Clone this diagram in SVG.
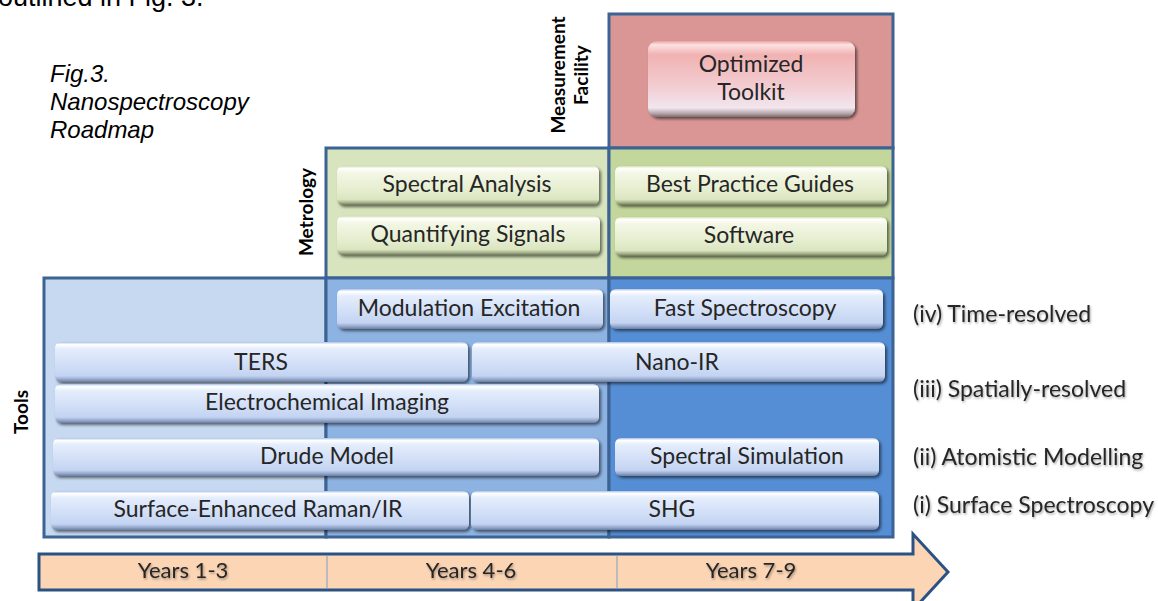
<svg xmlns="http://www.w3.org/2000/svg" width="1158" height="601" viewBox="0 0 1158 601">
<defs>
<linearGradient id="gb" x1="0" y1="0" x2="0" y2="1">
<stop offset="0" stop-color="#a9c1e8"/><stop offset="0.06" stop-color="#ffffff"/><stop offset="0.18" stop-color="#e4edfc"/><stop offset="0.55" stop-color="#d2dff7"/><stop offset="0.85" stop-color="#c3d3f1"/><stop offset="0.93" stop-color="#97abd0"/><stop offset="1" stop-color="#6a7ea2"/>
</linearGradient>
<linearGradient id="gg" x1="0" y1="0" x2="0" y2="1">
<stop offset="0" stop-color="#d3e0b0"/><stop offset="0.06" stop-color="#ffffff"/><stop offset="0.18" stop-color="#f3f7e5"/><stop offset="0.6" stop-color="#e6eed0"/><stop offset="0.86" stop-color="#dae5c0"/><stop offset="0.94" stop-color="#a5b18c"/><stop offset="1" stop-color="#6c7756"/>
</linearGradient>
<linearGradient id="gr" x1="0" y1="0" x2="0" y2="1">
<stop offset="0" stop-color="#eea0a0"/><stop offset="0.05" stop-color="#fde2e2"/><stop offset="0.18" stop-color="#f1b2b2"/><stop offset="0.6" stop-color="#f2cdd2"/><stop offset="0.88" stop-color="#f2e6ee"/><stop offset="0.95" stop-color="#b9a9af"/><stop offset="1" stop-color="#7a6c71"/>
</linearGradient>
<filter id="sh" x="-5%" y="-20%" width="112%" height="150%">
<feDropShadow dx="2" dy="2" stdDeviation="1.5" flood-color="#000" flood-opacity="0.55"/>
</filter>
<filter id="ts" x="-5%" y="-20%" width="110%" height="150%">
<feDropShadow dx="1" dy="1.5" stdDeviation="1" flood-color="#000" flood-opacity="0.35"/>
</filter>
</defs>
<style>
.pan{stroke:#3b6394;stroke-width:3}
.bb{fill:url(#gb);filter:url(#sh)}
.bg{fill:url(#gg);filter:url(#sh)}
.br{fill:url(#gr);filter:url(#sh)}
.t{font-family:Lato,"Open Sans",sans-serif;font-size:23px;fill:#262626;text-anchor:middle}
.lab{font-family:Lato,"Open Sans",sans-serif;font-size:23px;fill:#262626;filter:url(#ts)}
.yr{font-family:Lato,"Open Sans",sans-serif;font-size:22px;fill:#262626;text-anchor:middle;filter:url(#ts)}
.rot{font-family:Lato,"Open Sans",sans-serif;font-size:19px;font-weight:bold;fill:#000;text-anchor:middle}
.fig{font-family:"Liberation Sans",Arial,sans-serif;font-size:24px;font-style:italic;fill:#000}
</style>

<text x="-2" y="6" font-family="Liberation Sans, Arial, sans-serif" font-size="27" fill="#000">outlined in Fig. 3.</text>

<g id="caption">
<text class="fig" x="50" y="82">Fig.3.</text>
<text class="fig" x="50" y="110">Nanospectroscopy</text>
<text class="fig" x="50" y="138">Roadmap</text>
</g>

<g id="panels">
<rect class="pan" x="609" y="14" width="284" height="134" fill="#d99694"/>
<rect class="pan" x="326" y="148" width="283" height="130" fill="#d7e4bd"/>
<rect class="pan" x="609" y="148" width="284" height="130" fill="#c3d69b"/>
<rect class="pan" x="44" y="278" width="282" height="259" fill="#c6d9f1"/>
<rect class="pan" x="326" y="278" width="283" height="259" fill="#8db3e2"/>
<rect class="pan" x="609" y="278" width="284" height="259" fill="#558ed5"/>
</g>

<g id="axis-labels">
<text class="rot" transform="translate(565,75) rotate(-90)">Measurement</text>
<text class="rot" transform="translate(588,75) rotate(-90)">Facility</text>
<text class="rot" transform="translate(313,212) rotate(-90)">Metrology</text>
<text class="rot" transform="translate(28,412) rotate(-90)">Tools</text>
</g>

<g id="n-optimized"><rect class="br" x="648" y="41" width="207" height="76" rx="9"/><text class="t" x="751" y="72">Optimized</text><text class="t" x="751" y="100">Toolkit</text></g>
<g id="n-spectral-analysis"><rect class="bg" x="337" y="166" width="262" height="39" rx="6"/><text class="t" x="467" y="192">Spectral Analysis</text></g>
<g id="n-quantifying"><rect class="bg" x="337" y="216" width="263" height="39" rx="6"/><text class="t" x="468" y="242">Quantifying Signals</text></g>
<g id="n-best-practice"><rect class="bg" x="615" y="166" width="272" height="39" rx="6"/><text class="t" x="750" y="192">Best Practice Guides</text></g>
<g id="n-software"><rect class="bg" x="615" y="217" width="272" height="39" rx="6"/><text class="t" x="749" y="243">Software</text></g>
<g id="n-modulation"><rect class="bb" x="337" y="289" width="266" height="40" rx="6"/><text class="t" x="469" y="316">Modulation Excitation</text></g>
<g id="n-fast"><rect class="bb" x="610" y="289" width="273" height="40" rx="6"/><text class="t" x="745" y="316">Fast Spectroscopy</text></g>
<g id="n-ters"><rect class="bb" x="55" y="342" width="413" height="40" rx="6"/><text class="t" x="261" y="370">TERS</text></g>
<g id="n-nanoir"><rect class="bb" x="472" y="342" width="413" height="40" rx="6"/><text class="t" x="677" y="370">Nano-IR</text></g>
<g id="n-electrochem"><rect class="bb" x="55" y="384" width="544" height="39" rx="6"/><text class="t" x="327" y="410">Electrochemical Imaging</text></g>
<g id="n-drude"><rect class="bb" x="53" y="438" width="546" height="38" rx="6"/><text class="t" x="327" y="464">Drude Model</text></g>
<g id="n-spectral-sim"><rect class="bb" x="615" y="438" width="264" height="38" rx="6"/><text class="t" x="747" y="464">Spectral Simulation</text></g>
<g id="n-sers"><rect class="bb" x="51" y="491" width="418" height="39" rx="6"/><text class="t" x="258" y="517">Surface-Enhanced Raman/IR</text></g>
<g id="n-shg"><rect class="bb" x="471" y="491" width="408" height="39" rx="6"/><text class="t" x="672" y="517">SHG</text></g>

<g id="row-labels">
<text class="lab" x="913" y="322">(iv) Time-resolved</text>
<text class="lab" x="913" y="397">(iii) Spatially-resolved</text>
<text class="lab" x="913" y="465">(ii) Atomistic Modelling</text>
<text class="lab" x="913" y="513">(i) Surface Spectroscopy</text>
</g>

<g id="timeline">
<path d="M39,554 H913 V534 L948,572 L913,610 V590 H39 Z" fill="#fcd5b5" stroke="#2a5283" stroke-width="3" stroke-linejoin="miter"/>
<line x1="327" y1="555" x2="327" y2="589" stroke="#7f9fc8" stroke-width="1"/>
<line x1="617" y1="555" x2="617" y2="589" stroke="#7f9fc8" stroke-width="1"/>
<text class="yr" x="183" y="578">Years 1-3</text>
<text class="yr" x="471" y="578">Years 4-6</text>
<text class="yr" x="751" y="578">Years 7-9</text>
</g>
</svg>
